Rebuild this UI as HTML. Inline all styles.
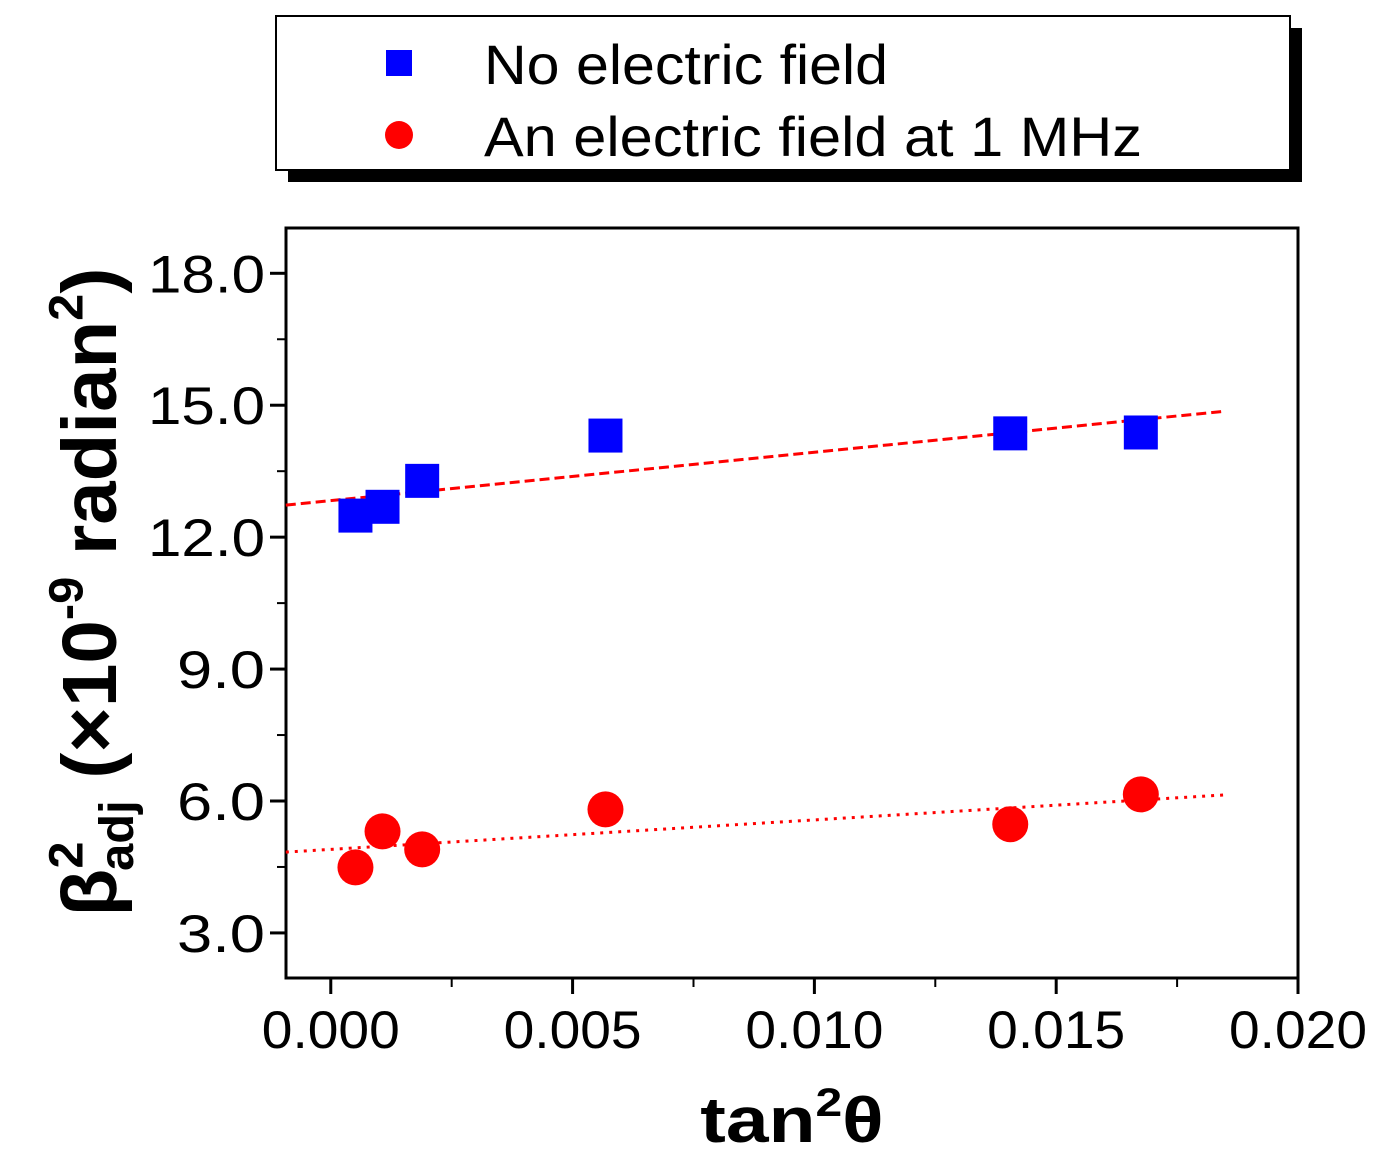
<!DOCTYPE html>
<html><head><meta charset="utf-8"><style>
html,body{margin:0;padding:0;background:#fff;}
svg{display:block;font-family:"Liberation Sans",Arial,sans-serif;}
</style></head><body>
<svg id="chart" width="1382" height="1168" viewBox="0 0 1382 1168">
<g>
  <rect x="288" y="28" width="1014" height="154" fill="#000"/>
  <rect x="276" y="16" width="1014" height="154" fill="#fff" stroke="#000" stroke-width="2"/>
  <rect x="386" y="50" width="26" height="26" fill="#0000ff"/>
  <text x="484" y="84" font-size="56" textLength="404" lengthAdjust="spacingAndGlyphs">No electric field</text>
  <circle cx="399" cy="135" r="14" fill="#ff0000"/>
  <text x="484" y="156" font-size="56" textLength="658" lengthAdjust="spacingAndGlyphs">An electric field at 1 MHz</text>
</g>
<g id="plot"></g>
<g transform="translate(792,1142) scale(1.2,1)">
<text x="0" y="0" font-size="64" font-weight="bold" text-anchor="middle">tan<tspan font-size="40" dy="-26">2</tspan><tspan dy="26">θ</tspan></text>
</g>
<g transform="translate(116,592) rotate(-90) scale(1.22,1.2)">
<text x="0" y="0" font-size="64" font-weight="bold" text-anchor="middle">β<tspan font-size="40" dy="-28">2</tspan><tspan font-size="40" dy="42" dx="-24">adj</tspan><tspan dy="-14"> (×10</tspan><tspan font-size="40" dy="-28">-9</tspan><tspan dy="28"> radian</tspan><tspan font-size="40" dy="-28">2</tspan><tspan dy="28">)</tspan></text>
</g>
</svg>
<script>
const xBlue=[0.00051,0.00107,0.00189,0.00568,0.01405,0.01675];
const yBlue=[12.49,12.69,13.28,14.31,14.36,14.38];
const xRed=[0.00051,0.00107,0.00189,0.00568,0.01405,0.01675];
const yRed=[4.49,5.31,4.90,5.81,5.47,6.15];
const fitBlue=[12.83,110.0];   // intercept, slope
const fitRed=[4.9,67.0];
const fitRange=[-0.00093,0.01846];
const xTicks=[0,0.005,0.010,0.015,0.020];
const xTickLabels=["0.000","0.005","0.010","0.015","0.020"];
const yTicks=[3,6,9,12,15,18];
const yTickLabels=["3.0","6.0","9.0","12.0","15.0","18.0"];

const L=286,R=1298,T=228,B=978;
const xmin=-0.000926,xmax=0.02,ymin=1.975,ymax=19.03;
const sx=v=>L+(v-xmin)/(xmax-xmin)*(R-L);
const sy=v=>B-(v-ymin)/(ymax-ymin)*(B-T);
const NS="http://www.w3.org/2000/svg";
const g=document.getElementById('plot');
function mk(t,a){const e=document.createElementNS(NS,t);for(const k in a)e.setAttribute(k,a[k]);g.appendChild(e);return e;}

const frame=mk('rect',{x:L,y:T,width:R-L,height:B-T,fill:'none',stroke:'#000','stroke-width':3});



xTicks.forEach((v,i)=>{
  const t=mk('line',{x1:sx(v),x2:sx(v),y1:B,y2:B+16,stroke:'#000','stroke-width':3});
  
  
  const lb=mk('text',{x:sx(v)-69,y:1048,'font-size':53,textLength:138,lengthAdjust:'spacingAndGlyphs'});
  lb.textContent=xTickLabels[i];
  
  
  if(i<xTicks.length-1){
    const m=mk('line',{x1:sx(v+0.0025),x2:sx(v+0.0025),y1:B,y2:B+9,stroke:'#000','stroke-width':2});
    
    
  }
});
yTicks.forEach((v,i)=>{
  const w=yTickLabels[i].length==4?117:88;
  const t=mk('line',{x1:L-16,x2:L,y1:sy(v),y2:sy(v),stroke:'#000','stroke-width':3});
  
  
  const lb=mk('text',{x:265-w,y:sy(v)+19,'font-size':53,textLength:w,lengthAdjust:'spacingAndGlyphs'});
  lb.textContent=yTickLabels[i];
  
  
  [v-1.5,v+1.5].forEach(m=>{ if(m>ymin&&m<ymax&&(i==0||m>v)){
    const mm=mk('line',{x1:L-9,x2:L,y1:sy(m),y2:sy(m),stroke:'#000','stroke-width':2});
    
    
  }});
});

function fit(f,dash,name){
  const l=mk('line',{x1:sx(fitRange[0]),y1:sy(f[0]+f[1]*fitRange[0]),x2:sx(fitRange[1]),y2:sy(f[0]+f[1]*fitRange[1]),stroke:'#ff0000','stroke-width':3,'stroke-dasharray':dash});
  
  
}
fit(fitBlue,'10 5','fit-line-no-field');
fit(fitRed,'3 6','fit-line-field');

xBlue.forEach((v,i)=>{
  const r=mk('rect',{x:sx(v)-17,y:sy(yBlue[i])-17,width:34,height:34,fill:'#0000ff'});
  
  
});
xRed.forEach((v,i)=>{
  const c=mk('circle',{cx:sx(v),cy:sy(yRed[i]),r:18,fill:'#ff0000'});
  
  
});
</script>
</body></html>
